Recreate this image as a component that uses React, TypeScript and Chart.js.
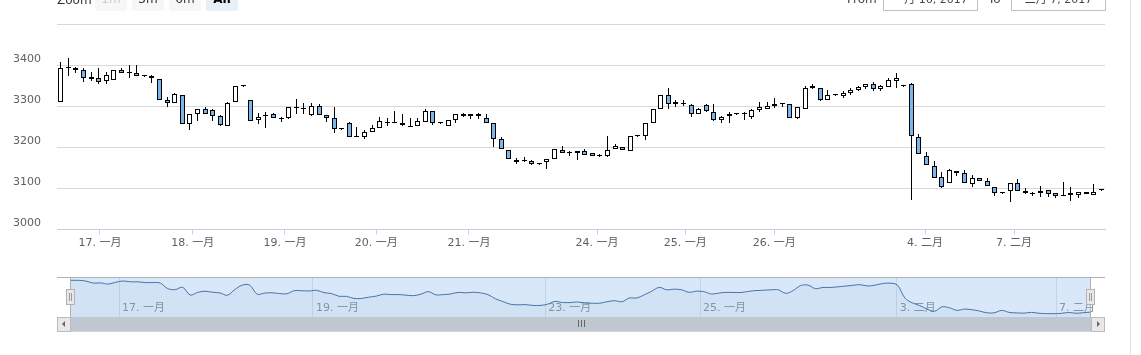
import React, { useEffect, useRef } from 'react';
import { Chart, registerables } from 'chart.js';

Chart.register(...registerables);

// ---- data ----
const opens = [
  3311, 3394, 3392, 3389, 3365, 3369, 3362, 3363, 3387, 3380, 3380, 3373, 3373, 3365, 3316, 3307, 3327, 3256, 3280, 3293,
  3290, 3276, 3252, 3309, 3349, 3316, 3266, 3277, 3280, 3268, 3270, 3296, 3294, 3278, 3300, 3278, 3270, 3244, 3258, 3224,
  3226, 3236, 3246, 3260, 3260, 3260, 3250, 3251, 3262, 3289, 3260, 3251, 3266, 3281, 3276, 3282, 3272, 3260, 3221, 3193,
  3169, 3166, 3166, 3158, 3164, 3170, 3192, 3185, 3187, 3191, 3185, 3179, 3179, 3196, 3201, 3191, 3228, 3228, 3258, 3292,
  3328, 3304, 3305, 3302, 3282, 3302, 3286, 3266, 3277, 3280, 3280, 3274, 3290, 3294, 3300, 3305, 3304, 3272, 3294, 3345,
  3343, 3315, 3327, 3325, 3333, 3339, 3346, 3354, 3341, 3347, 3362, 3349, 3353, 3226, 3179, 3155, 3128, 3112, 3143, 3136,
  3110, 3124, 3118, 3104, 3089, 3094, 3112, 3093, 3086, 3088, 3096, 3088, 3081, 3088, 3084, 3092, 3084, 3096,
];
const highs = [
  3408, 3416, 3396, 3394, 3382, 3394, 3382, 3389, 3392, 3400, 3400, 3373, 3376, 3365, 3323, 3331, 3327, 3280, 3292, 3297,
  3292, 3278, 3309, 3349, 3349, 3316, 3284, 3286, 3284, 3274, 3299, 3317, 3307, 3307, 3305, 3278, 3297, 3244, 3262, 3248,
  3243, 3255, 3274, 3270, 3288, 3280, 3270, 3272, 3294, 3289, 3260, 3266, 3282, 3284, 3282, 3284, 3282, 3260, 3226, 3193,
  3173, 3177, 3169, 3158, 3170, 3196, 3204, 3191, 3191, 3195, 3187, 3183, 3227, 3208, 3201, 3228, 3228, 3258, 3292, 3328,
  3343, 3316, 3316, 3306, 3295, 3306, 3305, 3277, 3285, 3280, 3286, 3294, 3311, 3309, 3319, 3308, 3304, 3298, 3349, 3355,
  3345, 3339, 3327, 3337, 3343, 3349, 3355, 3359, 3351, 3368, 3380, 3349, 3357, 3231, 3188, 3166, 3139, 3146, 3143, 3145,
  3132, 3124, 3126, 3104, 3089, 3112, 3122, 3100, 3092, 3106, 3096, 3088, 3114, 3102, 3092, 3092, 3110, 3096,
];
const lows = [
  3309, 3373, 3380, 3359, 3362, 3353, 3353, 3363, 3380, 3368, 3373, 3373, 3357, 3316, 3297, 3307, 3256, 3242, 3264, 3280,
  3264, 3252, 3252, 3309, 3349, 3264, 3256, 3246, 3270, 3262, 3268, 3282, 3282, 3277, 3278, 3262, 3234, 3244, 3224, 3224,
  3220, 3236, 3246, 3252, 3258, 3252, 3250, 3251, 3262, 3255, 3260, 3251, 3258, 3274, 3268, 3268, 3260, 3201, 3195, 3170,
  3159, 3164, 3157, 3158, 3146, 3170, 3186, 3179, 3168, 3181, 3179, 3175, 3175, 3196, 3193, 3191, 3228, 3217, 3258, 3292,
  3292, 3297, 3300, 3274, 3281, 3286, 3264, 3260, 3258, 3280, 3266, 3268, 3286, 3292, 3296, 3297, 3272, 3268, 3293, 3341,
  3313, 3315, 3327, 3320, 3327, 3337, 3341, 3337, 3337, 3347, 3343, 3349, 3072, 3183, 3157, 3124, 3100, 3112, 3131, 3112,
  3104, 3118, 3106, 3080, 3089, 3066, 3093, 3085, 3080, 3078, 3078, 3076, 3081, 3069, 3076, 3085, 3084, 3096,
];
const closes = [
  3394, 3394, 3387, 3368, 3370, 3359, 3376, 3388, 3380, 3380, 3373, 3373, 3368, 3316, 3307, 3329, 3256, 3280, 3292, 3282,
  3276, 3254, 3307, 3349, 3349, 3264, 3274, 3277, 3270, 3268, 3297, 3296, 3294, 3300, 3278, 3270, 3244, 3244, 3224, 3224,
  3236, 3246, 3264, 3260, 3260, 3255, 3250, 3264, 3288, 3258, 3260, 3266, 3281, 3276, 3282, 3276, 3260, 3221, 3195, 3170,
  3164, 3166, 3159, 3158, 3170, 3196, 3186, 3185, 3191, 3181, 3179, 3179, 3193, 3203, 3193, 3228, 3228, 3258, 3292, 3328,
  3305, 3311, 3305, 3282, 3292, 3288, 3266, 3274, 3281, 3280, 3280, 3290, 3298, 3301, 3305, 3305, 3272, 3298, 3345, 3349,
  3316, 3327, 3327, 3333, 3340, 3347, 3353, 3341, 3349, 3364, 3368, 3349, 3228, 3183, 3157, 3124, 3104, 3145, 3136, 3112,
  3124, 3118, 3106, 3089, 3089, 3112, 3093, 3088, 3086, 3093, 3085, 3081, 3081, 3084, 3092, 3085, 3090, 3096,
];

const mainTickIdx = [5.16, 17.37, 29.52, 41.55, 53.75, 70.61, 82.24, 93.96, 113.8, 125.52];
const mainTickLabels = ['17. 一月', '18. 一月', '19. 一月', '20. 一月', '21. 一月', '24. 一月', '25. 一月', '26. 一月', '4. 二月', '7. 二月'];
const navTickIdx = [6.45, 32.5, 63.7, 84.5, 110.9, 132.3];
const navTickLabels = ['17. 一月', '19. 一月', '23. 一月', '25. 一月', '3. 二月', '7. 二月'];
const yTicks = [3000, 3100, 3200, 3300, 3400, 3500];
const zoomButtons = ['1m', '3m', '6m', 'All'];
const fromText = '一月 16, 2017';
const toText = '二月 7, 2017';

const FONT = '"DejaVu Sans", "Noto Sans CJK SC", sans-serif';
const UP_COLOR = '#ffffff';
const DOWN_COLOR = '#7cb5ec';

const crispCandles = {
  id: 'crispCandles',
  beforeDatasetsDraw(chart: any) {
    chart.data.datasets.forEach((_: any, di: number) => {
      const meta = chart.getDatasetMeta(di);
      meta.data.forEach((el: any) => {
        el.x = Math.floor(el.x) + 0.5;
        const top = Math.round(Math.min(el.y, el.base));
        let bottom = Math.round(Math.max(el.y, el.base));
        if (bottom - top < 1) bottom = top + 1;
        el.y = top;
        el.base = bottom;
      });
    });
  },
};

const navDecor = {
  id: 'navDecor',
  beforeDatasetsDraw(chart: any) {
    const { ctx, chartArea: ca } = chart;
    const xs = chart.scales.x;
    const x0 = Math.round(xs.getPixelForValue(0));
    const x1 = Math.round(xs.getPixelForValue(closes.length - 1));
    ctx.save();
    ctx.fillStyle = 'rgba(128,179,236,0.3)';
    ctx.fillRect(x0, ca.top, x1 - x0, ca.bottom - ca.top);
    ctx.restore();
  },
  afterDraw(chart: any) {
    const { ctx, chartArea: ca } = chart;
    const xs = chart.scales.x;
    const x0 = Math.round(xs.getPixelForValue(0));
    const x1 = Math.round(xs.getPixelForValue(closes.length - 1));
    const L = ca.left - 14;
    const R = ca.right + 14;
    const top = Math.round(ca.top);
    const bot = Math.round(ca.bottom);
    ctx.save();
    // outline
    ctx.strokeStyle = '#b2b1b6';
    ctx.lineWidth = 1;
    ctx.beginPath();
    ctx.moveTo(L, top + 0.5);
    ctx.lineTo(R, top + 0.5);
    ctx.moveTo(x0 - 0.5, top);
    ctx.lineTo(x0 - 0.5, bot);
    ctx.moveTo(x1 - 0.5, top);
    ctx.lineTo(x1 - 0.5, bot);
    ctx.stroke();
    // scrollbar
    const sy = bot;
    ctx.fillStyle = '#eeeeee';
    ctx.fillRect(L, sy, R - L, 14);
    ctx.fillStyle = '#bfc8d1';
    ctx.fillRect(x0, sy, x1 - x0, 14);
    ctx.strokeStyle = '#d4d4d4';
    ctx.beginPath();
    ctx.moveTo(L, sy + 14.5);
    ctx.lineTo(R, sy + 14.5);
    ctx.stroke();
    // buttons
    [L, R - 14].forEach((bx, k) => {
      ctx.fillStyle = '#ebe7e8';
      ctx.fillRect(bx, sy, 14, 14);
      ctx.strokeStyle = '#bbbbbb';
      ctx.strokeRect(bx + 0.5, sy + 0.5, 13, 14);
      ctx.fillStyle = '#666666';
      ctx.beginPath();
      if (k === 0) {
        ctx.moveTo(bx + 8, sy + 4);
        ctx.lineTo(bx + 8, sy + 10);
        ctx.lineTo(bx + 5, sy + 7);
      } else {
        ctx.moveTo(bx + 6, sy + 4);
        ctx.lineTo(bx + 6, sy + 10);
        ctx.lineTo(bx + 9, sy + 7);
      }
      ctx.closePath();
      ctx.fill();
    });
    // grip on the bar
    const mid = Math.round((x0 + x1) / 2);
    ctx.strokeStyle = '#666666';
    ctx.beginPath();
    [-3, 0, 3].forEach((d) => {
      ctx.moveTo(mid + d + 0.5, sy + 3);
      ctx.lineTo(mid + d + 0.5, sy + 10);
    });
    ctx.stroke();
    // handles
    const hy = top + (bot - top) / 2 - 8;
    [x0, x1].forEach((hx) => {
      ctx.fillStyle = '#ebe7e8';
      ctx.fillRect(hx - 4.5, hy + 0.5, 8, 15);
      ctx.strokeStyle = '#b2b1b6';
      ctx.strokeRect(hx - 4.5, hy + 0.5, 8, 15);
      ctx.strokeStyle = '#999999';
      ctx.beginPath();
      ctx.moveTo(hx - 1.5, hy + 4);
      ctx.lineTo(hx - 1.5, hy + 12);
      ctx.moveTo(hx + 0.5, hy + 4);
      ctx.lineTo(hx + 0.5, hy + 12);
      ctx.stroke();
    });
    ctx.restore();
  },
};

function MainChart() {
  const ref = useRef<HTMLCanvasElement>(null);
  useEffect(() => {
    const idx = closes.map((_, i) => i);
    const bodies = idx.map((i) => ({ x: i, y: [opens[i], closes[i]] }));
    const wicks = idx.map((i) => ({ x: i, y: [lows[i], highs[i]] }));
    const chart = new Chart(ref.current!, {
      type: 'bar',
      data: {
        datasets: [
          {
            label: 'body',
            data: bodies as any,
            backgroundColor: idx.map((i) => (closes[i] >= opens[i] ? UP_COLOR : DOWN_COLOR)),
            borderColor: '#000000',
            borderWidth: 1,
            borderSkipped: false,
            barThickness: 5,
            maxBarThickness: 5,
            minBarLength: 1,
            inflateAmount: 0,
            grouped: false,
            order: 0,
          } as any,
          {
            label: 'wick',
            data: wicks as any,
            backgroundColor: '#000000',
            borderWidth: 0,
            barThickness: 1,
            maxBarThickness: 1,
            inflateAmount: 0,
            grouped: false,
            order: 1,
          } as any,
        ],
      },
      options: {
        animation: false,
        responsive: false,
        events: [],
        layout: { padding: { top: 24, left: 0, right: 36, bottom: 9.7 } },
        plugins: { legend: { display: false }, tooltip: { enabled: false } },
        scales: {
          x: {
            type: 'linear',
            min: -0.5,
            max: 137.5,
            offset: false,
            grid: {
              display: true,
              offset: false,
              drawOnChartArea: false,
              drawTicks: true,
              tickLength: 5,
              color: '#C0D0E0',
            },
            border: { display: true, color: '#C0D0E0' },
            afterBuildTicks: (s: any) => {
              s.ticks = mainTickIdx.map((v) => ({ value: v }));
            },
            afterFit: (s: any) => {
              s.height = 21;
            },
            ticks: {
              autoSkip: false,
              maxRotation: 0,
              minRotation: 0,
              padding: 2,
              color: '#606060',
              font: { family: FONT, size: 11 },
              callback: (_v: any, i: number) => mainTickLabels[i],
            },
          },
          y: {
            min: 3000,
            max: 3500,
            afterBuildTicks: (s: any) => {
              s.ticks = yTicks.map((v) => ({ value: v }));
            },
            afterFit: (s: any) => {
              s.width = 57;
            },
            grid: { color: '#D8D8D8', drawTicks: false },
            border: { display: false },
            ticks: {
              padding: 16,
              labelOffset: -6,
              color: '#606060',
              font: { family: FONT, size: 11 },
              callback: (v: any) => (v === 3500 ? '' : String(v)),
            },
          },
        },
      },
      plugins: [crispCandles],
    } as any);
    return () => chart.destroy();
  }, []);
  return <canvas ref={ref} width={1141} height={260} style={{ position: 'absolute', left: 0, top: 0 }} />;
}

function Navigator() {
  const ref = useRef<HTMLCanvasElement>(null);
  useEffect(() => {
    const lo = Math.min(...closes);
    const hi = Math.max(...closes);
    const pad = (hi - lo) * 0.1;
    const chart = new Chart(ref.current!, {
      type: 'line',
      data: {
        datasets: [
          {
            data: closes.map((c, i) => ({ x: i, y: c })),
            borderColor: '#4572a7',
            borderWidth: 1,
            pointRadius: 0,
            tension: 0.35,
            fill: 'start',
            backgroundColor: 'rgba(69,114,167,0.05)',
          },
        ],
      },
      options: {
        animation: false,
        responsive: false,
        events: [],
        layout: { padding: { top: 7, left: 71, right: 50, bottom: 23 } },
        plugins: { legend: { display: false }, tooltip: { enabled: false } },
        scales: {
          x: {
            type: 'linear',
            min: 0,
            max: closes.length - 1,
            afterBuildTicks: (s: any) => {
              s.ticks = navTickIdx.map((v) => ({ value: v }));
            },
            afterFit: (s: any) => {
              s.height = 0;
            },
            grid: { color: '#e2e2e2', drawTicks: false },
            border: { display: false },
            ticks: {
              autoSkip: false,
              maxRotation: 0,
              minRotation: 0,
              mirror: true,
              align: 'start',
              labelOffset: 3,
              padding: 2,
              color: '#888888',
              font: { family: FONT, size: 11 },
              callback: (_v: any, i: number) => navTickLabels[i],
            },
          },
          y: { display: false, min: lo - pad, max: hi + pad },
        },
      },
      plugins: [navDecor],
    } as any);
    return () => chart.destroy();
  }, []);
  return <canvas ref={ref} width={1141} height={70} style={{ position: 'absolute', left: 0, top: 270 }} />;
}

export default function App() {
  useEffect(() => {
    document.body.style.margin = '0';
  }, []);
  const txt = (size: number): React.CSSProperties => ({
    position: 'absolute',
    fontFamily: FONT,
    fontSize: size,
    lineHeight: `${size}px`,
    whiteSpace: 'nowrap',
  });
  const btnX = [95, 132, 169, 206];
  return (
    <div style={{ position: 'relative', width: 1141, height: 355, overflow: 'hidden', background: '#fff' }}>
      <MainChart />
      <Navigator />
      <div style={{ ...txt(12), left: 57, top: -6.5, color: '#333' }}>Zoom</div>
      {zoomButtons.map((b, i) => (
        <React.Fragment key={b}>
          <div
            style={{
              position: 'absolute',
              left: btnX[i],
              top: -8,
              width: 32,
              height: 18.5,
              borderRadius: 2,
              background: i === 3 ? '#e7f0f9' : '#f7f7f7',
            }}
          />
          <div
            style={{
              ...txt(12),
              left: btnX[i],
              width: 32,
              textAlign: 'center',
              top: -6.8,
              color: i === 0 ? '#cccccc' : i === 3 ? '#000' : '#333',
              fontWeight: i === 3 ? 'bold' : 'normal',
            }}
          >
            {b}
          </div>
        </React.Fragment>
      ))}
      <div style={{ ...txt(12), left: 847, top: -6.8, color: '#444' }}>From</div>
      <div style={{ ...txt(12), left: 988, top: -6.8, color: '#444' }}>To</div>
      <div
        style={{
          position: 'absolute',
          left: 883,
          top: -10,
          width: 95,
          height: 21,
          boxSizing: 'border-box',
          border: '1px solid #c0c0c0',
        }}
      />
      <div style={{ ...txt(11), left: 883, width: 95, textAlign: 'center', top: -6.5, color: '#444' }}>{fromText}</div>
      <div
        style={{
          position: 'absolute',
          left: 1011,
          top: -10,
          width: 95,
          height: 21,
          boxSizing: 'border-box',
          border: '1px solid #c0c0c0',
        }}
      />
      <div style={{ ...txt(11), left: 1011, width: 95, textAlign: 'center', top: -6.5, color: '#444' }}>{toText}</div>
      <div style={{ position: 'absolute', left: 1130, top: 0, width: 1, height: 355, background: '#e3e3e3' }} />
    </div>
  );
}
